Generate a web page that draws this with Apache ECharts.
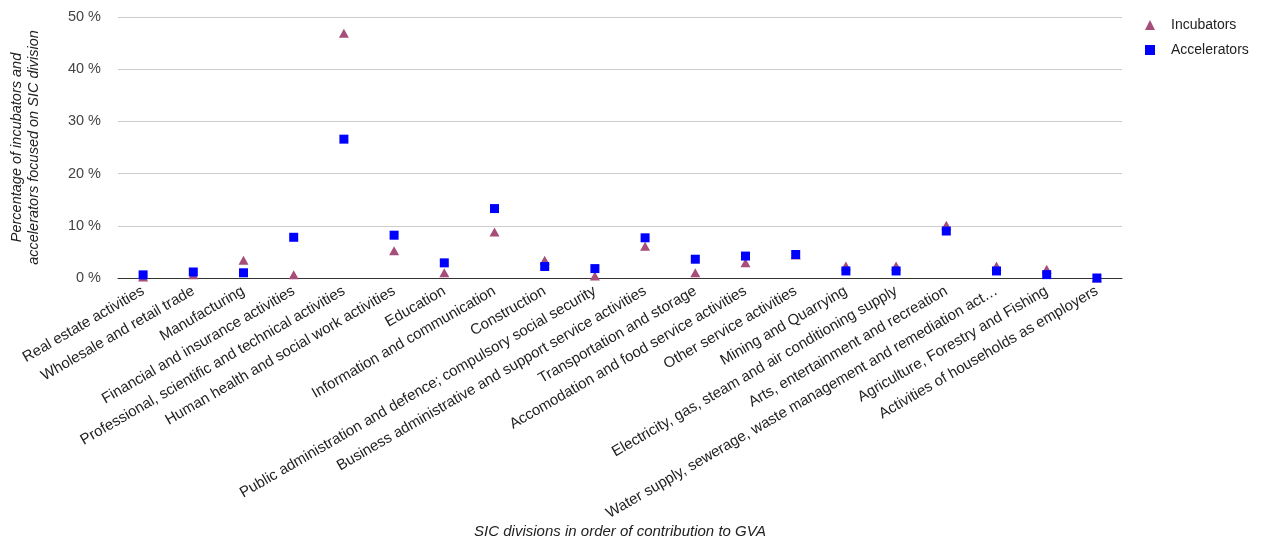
<!DOCTYPE html>
<html>
<head>
<meta charset="utf-8">
<script src="https://cdn.jsdelivr.net/npm/echarts@6/dist/echarts.min.js"></script>
<style>
html,body{margin:0;padding:0;background:#fff;}
#chart{width:1263px;height:543px;}
</style>
</head>
<body>
<div id="chart"></div>
<script>
const categories = [
  "Real estate activities",
  "Wholesale and retail trade",
  "Manufacturing",
  "Financial and insurance activities",
  "Professional, scientific and technical activities",
  "Human health and social work activities",
  "Education",
  "Information and communication",
  "Construction",
  "Public administration and defence; compulsory social security",
  "Business administrative and support service activities",
  "Transportation and storage",
  "Accomodation and food service activities",
  "Other service activities",
  "Mining and Quarrying",
  "Electricity, gas, steam and air conditioning supply",
  "Arts, entertainment and recreation",
  "Water supply, sewerage, waste management and remediation activities",
  "Agriculture, Forestry and Fishing",
  "Activities of households as employers"
];
const incubators = [0.2, 0.6, 3.4, 0.6, 46.9, 5.2, 1.0, 8.8, 3.4, 0.4, 6.1, 1.0, 2.9, 4.4, 2.3, 2.3, 10.1, 2.3, 1.7, 0];
const accelerators = [0.6, 1.15, 1.0, 7.8, 26.6, 8.2, 2.9, 13.3, 2.2, 1.8, 7.7, 3.6, 4.2, 4.5, 1.35, 1.35, 9.0, 1.35, 0.65, 0];
const yTicks = [0, 10, 20, 30, 40, 50];

const FONT = 'Liberation Sans, Arial, sans-serif';
const chart = echarts.init(document.getElementById('chart'));
chart.setOption({
  animation: false,
  backgroundColor: '#fff',
  textStyle: { fontFamily: FONT },
  grid: { left: 118, right: 141, top: 17, bottom: 265, containLabel: false, outerBoundsMode: 'none' },
  legend: {
    orient: 'vertical',
    left: 1140,
    top: 13,
    itemWidth: 10,
    itemHeight: 10,
    itemGap: 11,
    textStyle: { fontSize: 14, color: '#222', fontFamily: FONT, padding: [0, 0, 0, 11] },
    data: [
      { name: 'Incubators', icon: 'triangle' },
      { name: 'Accelerators', icon: 'rect' }
    ]
  },
  xAxis: {
    type: 'category',
    data: categories,
    boundaryGap: true,
    name: 'SIC divisions in order of contribution to GVA',
    nameLocation: 'middle',
    nameGap: 246,
    nameTextStyle: { fontStyle: 'italic', fontSize: 15, color: '#222' },
    axisLine: { lineStyle: { color: '#333', width: 1 } },
    axisTick: { show: false },
    axisLabel: {
      rotate: 30,
      interval: 0,
      margin: 12,
      fontSize: 15,
      color: '#222',
      formatter: function (v) { return v.length > 64 ? v.slice(0, 60) + '…' : v; }
    },
    splitLine: { show: false }
  },
  yAxis: {
    type: 'value',
    min: yTicks[0],
    max: yTicks[yTicks.length - 1],
    interval: 10,
    name: 'Percentage of incubators and\naccelerators focused on SIC division',
    nameLocation: 'middle',
    nameGap: 76,
    nameTextStyle: { fontStyle: 'italic', fontSize: 14.5, color: '#222', lineHeight: 17 },
    axisLine: { show: false },
    axisTick: { show: false },
    axisLabel: { formatter: '{value} %', fontSize: 14.5, color: '#444', margin: 17 },
    splitLine: { lineStyle: { color: '#ccc', width: 1 } }
  },
  series: [
    {
      name: 'Incubators',
      type: 'scatter',
      symbol: 'triangle',
      symbolSize: [10, 9],
      itemStyle: { color: '#a64d79', opacity: 1 },
      data: incubators
    },
    {
      name: 'Accelerators',
      type: 'scatter',
      symbol: 'rect',
      symbolSize: 9,
      itemStyle: { color: '#0000ff', opacity: 1 },
      data: accelerators
    }
  ]
});
</script>
</body>
</html>
